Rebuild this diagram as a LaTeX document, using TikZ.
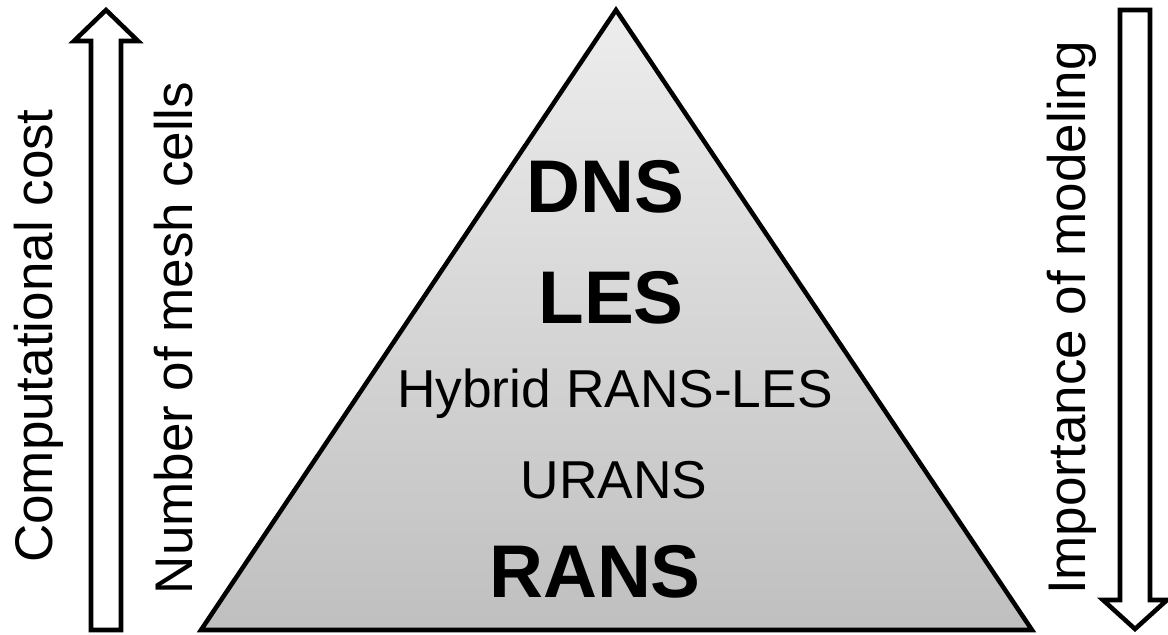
\documentclass[tikz,border=0pt]{standalone}
\usepackage{fontspec}
\setmainfont{Liberation Sans}
\begin{document}
\begin{tikzpicture}[x=0.75pt,y=-0.75pt,
  outline/.style={draw=black,line width=3.4pt,line join=miter},
  hollow/.style={outline,fill=white},
  level/.style={anchor=base,inner sep=0pt,font=\fontsize{40pt}{44pt}\selectfont},
  major/.style={anchor=base,inner sep=0pt,font=\fontsize{56pt}{62pt}\selectfont\bfseries},
  sidelabel/.style={anchor=base,inner sep=0pt,rotate=90,font=\fontsize{39.75pt}{44pt}\selectfont}]
\useasboundingbox (0,0) rectangle (1168,635);

% pyramid of simulation approaches
\filldraw[outline,top color=black!7,bottom color=black!25] (616,10) -- (1032,630) -- (201,630) -- cycle;

% hollow arrow pointing up (cost, mesh size)
\filldraw[hollow] (91,630) -- (91,41) -- (74,41) -- (106,10) -- (138,41) -- (121,41) -- (121,630) -- cycle;

% hollow arrow pointing down (modelling)
\filldraw[hollow] (1120,10) -- (1150,10) -- (1150,600) -- (1167,600) -- (1135,629) -- (1103,600) -- (1120,600) -- cycle;

% levels inside the pyramid
\node[major] (dns) at (605,212) {DNS};
\node[major] (les) at (611,323) {LES};
\node[level] (hyb) at (615,407) {Hybrid RANS-LES};
\node[level] (urans) at (614,498) {URANS};
\node[major] (rans) at (595,597) {RANS};

% axis labels
\node[sidelabel] (cost) at (52,336) {Computational cost};
\node[sidelabel] (cells) at (192,338) {Number of mesh cells};
\node[sidelabel] (model) at (1085,318) {Importance of modeling};
\end{tikzpicture}
\end{document}
